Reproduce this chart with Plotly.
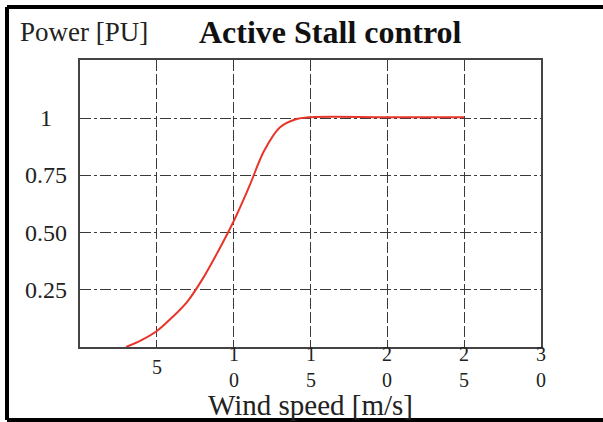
import plotly.graph_objects as go

# Data
wind_speed = [3, 4, 5, 6, 7, 8, 9, 10, 11, 12, 13, 14, 15, 20, 25]
power_pu = [0.0, 0.03, 0.07, 0.13, 0.2, 0.3, 0.42, 0.55, 0.70, 0.86, 0.96, 0.995, 1.005, 1.005, 1.005]

x_tick_vals = [5, 10, 15, 20, 25, 30]
x_tick_text = ["5", "1<br>0", "1<br>5", "2<br>0", "2<br>5", "3<br>0"]
y_tick_vals = [0.25, 0.5, 0.75, 1.0]
y_tick_text = ["0.25", "0.50", "0.75", "1"]

SERIF = "Liberation Serif, Times New Roman, serif"
GRID = "#3a3a3a"

fig = go.Figure()
fig.add_trace(go.Scatter(
    x=wind_speed, y=power_pu, mode="lines",
    line=dict(color="#e8352a", width=2, shape="spline", smoothing=1.0),
    hoverinfo="skip", showlegend=False,
))

annotations = []
for v, t in zip(x_tick_vals, x_tick_text):
    annotations.append(dict(
        x=v, y=0, xref="x", yref="y", text=t, showarrow=False,
        yanchor="middle", xanchor="center", yshift=-20, borderpad=0,
        font=dict(family=SERIF, size=20, color="#222"),
    ))
for v, t in zip(y_tick_vals, y_tick_text):
    annotations.append(dict(
        x=-0.074, y=v, xref="paper", yref="y", text=t, showarrow=False,
        xanchor="center", yanchor="middle",
        font=dict(family=SERIF, size=24, color="#222"),
    ))
annotations += [
    dict(x=-0.1345, y=1.098, xref="paper", yref="paper", text="Power [PU]",
         showarrow=False, xanchor="left", yanchor="middle",
         font=dict(family=SERIF, size=27, color="#222")),
    dict(x=0.544, y=1.098, xref="paper", yref="paper", text="<b>Active Stall control</b>",
         showarrow=False, xanchor="center", yanchor="middle",
         font=dict(family=SERIF, size=32, color="#111")),
    dict(x=0.5, y=-0.203, xref="paper", yref="paper", text="Wind speed [m/s]",
         showarrow=False, xanchor="center", yanchor="middle", borderpad=0,
         font=dict(family=SERIF, size=29, color="#222")),
]

bx0 = (7 - 80) / 461
bx1 = (606 - 80) / 461
by0 = (347 - 420) / 287
by1 = (347 - 7) / 287
border = dict(color="black", width=4)
shapes = [
    dict(type="line", xref="paper", yref="paper", x0=bx0, x1=bx0, y0=by0, y1=by1, line=border),
    dict(type="line", xref="paper", yref="paper", x0=bx0, x1=bx1, y0=by1, y1=by1, line=border),
    dict(type="line", xref="paper", yref="paper", x0=bx0, x1=bx1, y0=by0, y1=by0, line=border),
]

fig.update_layout(
    width=603, height=422,
    margin=dict(l=80, r=62, t=60, b=75),
    paper_bgcolor="white", plot_bgcolor="white",
    annotations=annotations,
    shapes=shapes,
)
fig.update_xaxes(
    range=[0, 30], tickvals=x_tick_vals, showticklabels=False,
    showgrid=True, gridcolor=GRID, gridwidth=1.2, griddash="11px,3px",
    showline=True, linecolor="#444", linewidth=2, mirror=True,
    zeroline=False, fixedrange=True,
)
fig.update_yaxes(
    range=[0, 1.255], tickvals=y_tick_vals, showticklabels=False,
    showgrid=True, gridcolor=GRID, gridwidth=1.2, griddash="11px,3px,3px,3px",
    showline=True, linecolor="#444", linewidth=2, mirror=True,
    zeroline=False, fixedrange=True,
)

fig.write_html(
    "out.html",
    config={"displayModeBar": False},
    post_script="document.body.style.margin='0';document.body.style.overflow='hidden';",
)
